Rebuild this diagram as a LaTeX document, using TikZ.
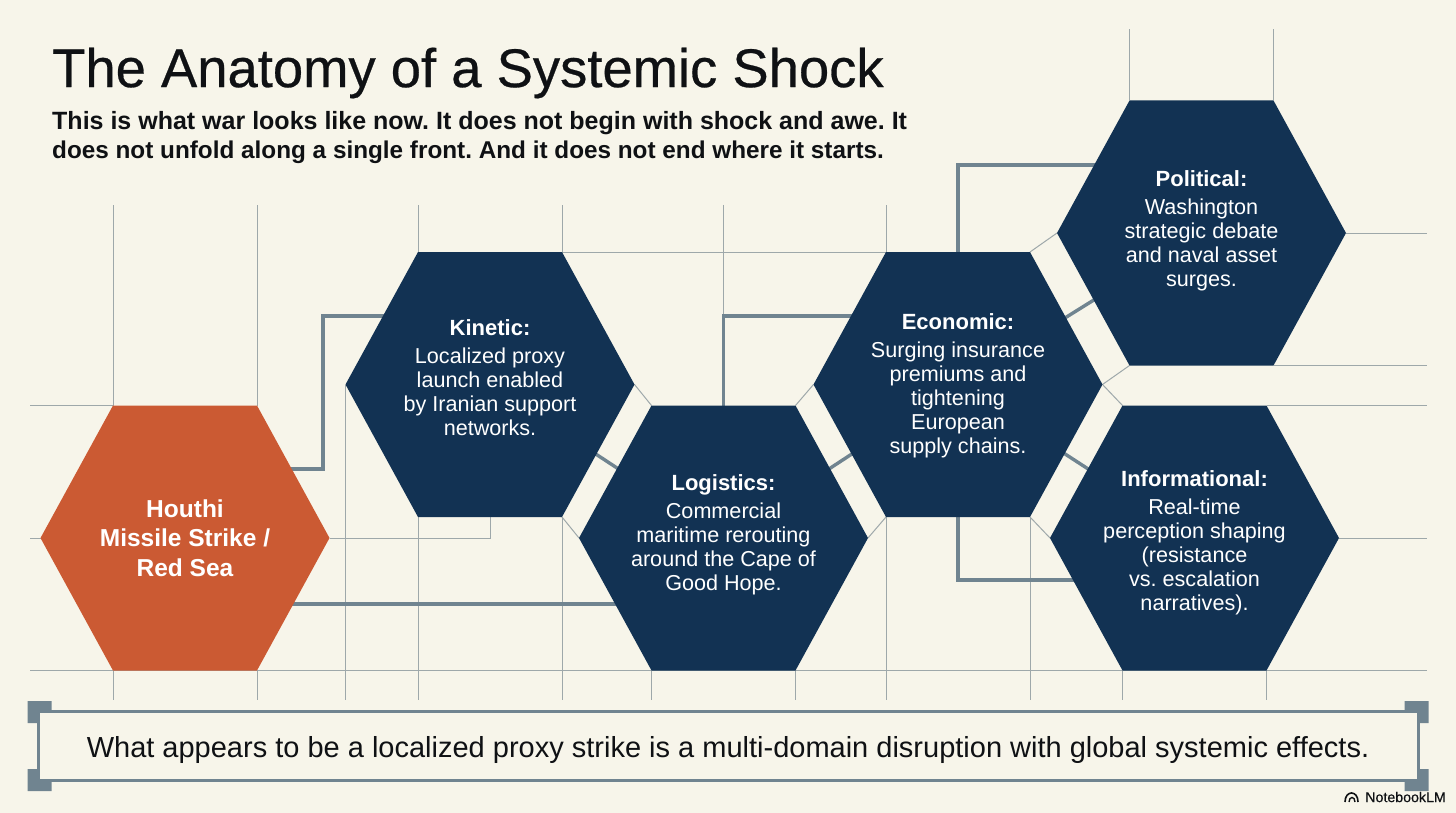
\documentclass[tikz,border=0pt]{standalone}
\usepackage{fontspec}
\setmainfont{Liberation Sans}
\newfontfamily\headfont[FakeBold=0.5]{Liberation Sans}
\usepackage{xcolor}
\usetikzlibrary{backgrounds}
\definecolor{paper}{RGB}{247,245,234}
\definecolor{navyhex}{RGB}{18,50,83}
\definecolor{rusthex}{RGB}{203,90,51}
\definecolor{linkgray}{RGB}{112,132,144}
\definecolor{gridgray}{RGB}{158,168,170}
\definecolor{inkblack}{RGB}{15,17,20}

\tikzset{
  gridline/.style={gridgray,line width=1pt},
  hexlink/.style={linkgray,line width=3.4pt},
  celltext/.style={white,align=center,font=\fontsize{21.6}{24}\selectfont},
  bracketfill/.style={fill=linkgray},
}

% name, x, y, colour, text offset, text
\newcommand{\hexcell}[6]{%
  \fill[#4] (#2-144.5,#3) -- (#2-72,#3-132.5) -- (#2+72,#3-132.5)
    -- (#2+144.5,#3) -- (#2+72,#3+132.5) -- (#2-72,#3+132.5) -- cycle;
  \coordinate (#1) at (#2,#3);
  \coordinate (#1-l) at (#2-144.5,#3);
  \coordinate (#1-r) at (#2+144.5,#3);
  \coordinate (#1-tl) at (#2-72,#3-132.5);
  \coordinate (#1-tr) at (#2+72,#3-132.5);
  \coordinate (#1-bl) at (#2-72,#3+132.5);
  \coordinate (#1-br) at (#2+72,#3+132.5);
  \node[celltext] (#1-text) at (#2,#3+#5) {#6};
}
\newcommand{\cellhead}[1]{{\fontsize{22}{24}\selectfont\bfseries #1}\\[4pt]}
\newcommand{\strikeline}[1]{{\fontsize{24.5}{24}\selectfont\bfseries #1}}

\begin{document}
\frenchspacing
\begin{tikzpicture}[x=1pt,y=-1pt]
    \useasboundingbox (0,0) rectangle (1456,813);

    % Heading
    \node[anchor=west,inkblack,font=\fontsize{54.4}{60}\headfont,inner sep=0pt] (heading) at (52,73) {The Anatomy of a Systemic Shock};
    \node[anchor=north west,inkblack,align=left,font=\fontsize{25}{29}\selectfont\bfseries,inner sep=0pt] (subheading) at (52,111)
      {This is what war looks like now. It does not begin with shock and awe. It\\{\fontsize{24.3}{29}\selectfont\bfseries does not unfold along a single front. And it does not end where it starts.}};

    % Hexagons
    \hexcell{houthi}{185}{538}{rusthex}{0}{\strikeline{Houthi}\\[5.5pt]\strikeline{Missile Strike /}\\[5.5pt]\strikeline{Red Sea}}
    \hexcell{kinetic}{490}{384.5}{navyhex}{-7}{\cellhead{Kinetic:}Localized proxy\\launch enabled\\by Iranian support\\networks.}
    \hexcell{logistics}{723.5}{538}{navyhex}{-3}{\cellhead{Logistics:}Commercial\\maritime rerouting\\around the Cape of\\Good Hope.}
    \hexcell{economic}{958}{384.5}{navyhex}{1}{\cellhead{Economic:}Surging insurance\\premiums and\\tightening\\European\\supply chains.}
    \hexcell{political}{1201.5}{233}{navyhex}{-2.5}{\cellhead{Political:}Washington\\strategic debate\\and naval asset\\surges.}
    \hexcell{informational}{1194.5}{538}{navyhex}{4.5}{\cellhead{Informational:}Real-time\\perception shaping\\(resistance\\vs. escalation\\narratives).}

    % Takeaway box
    \node[draw=linkgray,line width=3pt,minimum width=1380pt,minimum height=69pt,inner sep=0pt,
      text=inkblack,text height=28pt,text depth=6pt,font=\fontsize{29}{32}\selectfont] (takeaway) at (728,746)
      {What appears to be a localized proxy strike is a multi-domain disruption with global systemic effects.};
    \fill[bracketfill] (takeaway.north west) ++(-9,-9) -- ++(24,0) -- ++(0,9) -- ++(-14,0) -- ++(0,13) -- ++(-10,0) -- cycle;
    \fill[bracketfill] (takeaway.south west) ++(-9,9) -- ++(24,0) -- ++(0,-9) -- ++(-14,0) -- ++(0,-13) -- ++(-10,0) -- cycle;
    \fill[bracketfill] (takeaway.north east) ++(9,-9) -- ++(-24,0) -- ++(0,9) -- ++(14,0) -- ++(0,13) -- ++(10,0) -- cycle;
    \fill[bracketfill] (takeaway.south east) ++(9,9) -- ++(-24,0) -- ++(0,-9) -- ++(14,0) -- ++(0,-13) -- ++(10,0) -- cycle;

    % Brand mark
    \node[anchor=east,inkblack,font=\fontsize{14.2}{18}\headfont,inner sep=0pt] (brand) at (1446,797) {NotebookLM};
    \draw[inkblack,line width=1.6pt] (1345,802) .. controls (1345,790) and (1358,790) .. (1358,802);
    \draw[inkblack,line width=1.4pt] (1349,802) .. controls (1349,796) and (1355,796) .. (1355,802);

    \begin{scope}[on background layer]
      \fill[paper] (0,0) rectangle (1456,813);

      % Thin grid
      \foreach \cell in {houthi-tl,houthi-tr,kinetic-tl,kinetic-tr,economic-tl}
        \draw[gridline] (\cell) -- (\cell |- 0,205);
      \draw[gridline] (logistics |- 0,205) -- (logistics |- logistics-tl);
      \foreach \cell in {political-tl,political-tr}
        \draw[gridline] (\cell) -- (\cell |- 0,29);
      \foreach \cell in {houthi-bl,houthi-br,kinetic-l,kinetic-bl,kinetic-br,logistics-bl,logistics-br,economic-bl,economic-br,informational-bl,informational-br}
        \draw[gridline] (\cell) -- (\cell |- 0,700);
      \draw[gridline] (30,670) -- (1427,670);
      \draw[gridline] (30,405.5) -- (houthi-tl);
      \draw[gridline] (30,538) -- (houthi-l);
      \draw[gridline] (houthi-r) -| (kinetic |- kinetic-bl);
      \draw[gridline] (kinetic-tr) -- (economic-tl);
      \foreach \cell in {political-r,political-br,informational-tr,informational-r}
        \draw[gridline] (\cell) -- (1427,0 |- \cell);

      % Thin diagonals between neighbours
      \draw[gridline] (kinetic-r) -- (logistics-tl);
      \draw[gridline] (kinetic-br) -- (logistics-l);
      \draw[gridline] (logistics-tr) -- (economic-l);
      \draw[gridline] (logistics-r) -- (economic-bl);
      \draw[gridline] (economic-tr) -- (political-l);
      \draw[gridline] (economic-r) -- (political-bl);
      \draw[gridline] (economic-r) -- (informational-tl);
      \draw[gridline] (economic-br) -- (informational-l);

      % Thick links
      \coordinate (strikeLow) at (323,469);
      \coordinate (strikeHigh) at (323,316);
      \coordinate (seaLane) at (300,604);
      \coordinate (logisticsHigh) at (723.5,316);
      \coordinate (politicalHigh) at (958,165);
      \coordinate (informLow) at (958,580);
      \draw[hexlink] (houthi |- strikeLow) -- (strikeLow) -- (strikeHigh) -- (kinetic |- strikeHigh);
      \draw[hexlink] (houthi |- seaLane) -- (logistics |- seaLane);
      \draw[hexlink] (logistics) -- (logisticsHigh) -- (economic |- logisticsHigh);
      \draw[hexlink] (economic) -- (politicalHigh) -- (political |- politicalHigh);
      \draw[hexlink] (economic) -- (informLow) -- (informational |- informLow);
      \draw[hexlink] (kinetic) -- (logistics);
      \draw[hexlink] (logistics) -- (economic);
      \draw[hexlink] (economic) -- (political);
      \draw[hexlink] (economic) -- (informational);
    \end{scope}
\end{tikzpicture}
\end{document}
